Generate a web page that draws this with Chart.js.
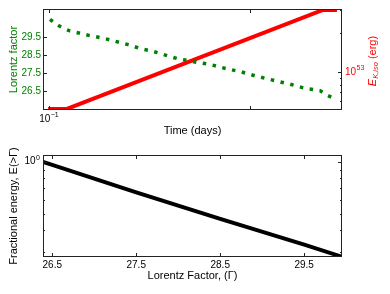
<!DOCTYPE html>
<html>
<head>
<meta charset="utf-8">
<script src="https://cdn.jsdelivr.net/npm/chart.js@4.4.1/dist/chart.umd.min.js"></script>
<style>
html,body{margin:0;padding:0;background:#fff;}
#wrap{position:relative;width:390px;height:294px;overflow:hidden;}
#c1{position:absolute;left:0;top:0;}
#c2{position:absolute;left:0;top:140px;}
</style>
</head>
<body>
<div id="wrap">
<canvas id="c1" width="390" height="140"></canvas>
<canvas id="c2" width="390" height="154"></canvas>
</div>
<script>
// ---- data ----
const timeDays = [0.1012,0.1092,0.1178,0.1272,0.1427,0.1569,0.1794,0.2012,0.2255,0.2529,0.2836,0.3181,0.3566,0.3999,0.4485,0.5030,0.5326,0.6324,0.7656,0.9095,1.0797,1.3060,1.5812,1.8774,2.2301,2.4074,2.6697];
const lorentzFactor = [30.49,30.21,29.99,29.85,29.72,29.61,29.48,29.35,29.20,29.06,28.87,28.75,28.60,28.42,28.27,28.18,28.12,27.98,27.74,27.56,27.32,27.10,26.88,26.65,26.52,26.28,26.04];
const energyTime = [0.099, 0.1229, 2.307, 2.709];
const energyIso = [5.2e52, 5.2e52, 3.0e53, 3.0e53];
const gammaVals = [26.39, 26.5, 27.5, 28.5, 29.5, 29.95];
const fracEnergy = [0.996, 0.959, 0.663, 0.466, 0.330, 0.281];

// ---- ticks ----
const timeTicks = [0.1, 1];
const timeTickLabels = [{value: 0.1, base: '10', exp: '\u22121'}];
const lorentzTicks = [26.5, 27.5, 28.5, 29.5];
const energyMajor = [1e53];
const energyMinor = [6e52, 7e52, 8e52, 9e52, 2e53, 3e53];
const energyTickLabels = [{value: 1e53, base: '10', exp: '53'}];
const gammaTicks = [26.5, 27.5, 28.5, 29.5];
const fracMajor = [1];
const fracMinor = [0.3, 0.4, 0.5, 0.6, 0.7, 0.8, 0.9];
const fracTickLabels = [{value: 1, base: '10', exp: '0'}];

const FONT = "'Liberation Sans', Arial, sans-serif";
const GREEN = '#008000', RED = '#ff0000';

const boxTicks = {
  id: 'boxTicks',
  afterDatasetsDraw(chart, args, opts) {
    const ctx = chart.ctx, a = chart.chartArea;
    ctx.save();
    ctx.strokeStyle = '#222';
    ctx.lineWidth = 1;
    (opts.marks || []).forEach(m => {
      const s = chart.scales[m.scale];
      m.values.forEach(v => {
        const p = Math.round(s.getPixelForValue(v)) + 0.5;
        ctx.beginPath();
        m.sides.forEach(side => {
          if (side === 'bottom') { ctx.moveTo(p, a.bottom); ctx.lineTo(p, a.bottom - m.len); }
          if (side === 'top') { ctx.moveTo(p, a.top); ctx.lineTo(p, a.top + m.len); }
          if (side === 'left') { ctx.moveTo(a.left, p); ctx.lineTo(a.left + m.len, p); }
          if (side === 'right') { ctx.moveTo(a.right, p); ctx.lineTo(a.right - m.len, p); }
        });
        ctx.stroke();
      });
    });
    ctx.strokeRect(Math.round(a.left) + 0.5, Math.round(a.top) + 0.5,
                   Math.round(a.right - a.left) - 1, Math.round(a.bottom - a.top) - 1);
    // superscript tick labels
    (opts.supLabels || []).forEach(L => {
      const s = chart.scales[L.scale];
      L.items.forEach(it => {
        const p = s.getPixelForValue(it.value);
        ctx.font = '10px ' + FONT;
        const wb = ctx.measureText(it.base).width;
        ctx.font = '7px ' + FONT;
        const we = ctx.measureText(it.exp).width;
        const w = wb + we + 0.5;
        let x0, yc;
        if (L.side === 'bottom') { x0 = p - w / 2; yc = a.bottom + 9; }
        if (L.side === 'left') { x0 = a.left - 3 - w; yc = p; }
        if (L.side === 'right') { x0 = a.right + 3; yc = p; }
        ctx.fillStyle = L.color;
        ctx.textAlign = 'left';
        ctx.textBaseline = 'middle';
        ctx.font = '10px ' + FONT;
        ctx.fillText(it.base, x0, yc);
        ctx.font = '7px ' + FONT;
        ctx.fillText(it.exp, x0 + wb + 0.5, yc - 4);
      });
    });
    if (opts.rightTitle) {
      const t = opts.rightTitle;
      ctx.fillStyle = t.color;
      ctx.textBaseline = 'middle';
      ctx.textAlign = 'left';
      const parts = [
        {txt: 'E', font: 'italic 11px ' + FONT, dy: 0},
        {txt: 'K,iso', font: 'italic 7.5px ' + FONT, dy: 3},
        {txt: ' (erg)', font: '11px ' + FONT, dy: 0}
      ];
      let total = 0;
      parts.forEach(p => { ctx.font = p.font; p.w = ctx.measureText(p.txt).width; total += p.w; });
      ctx.translate(t.x, t.y);
      ctx.rotate(-Math.PI / 2);
      let x = -total / 2;
      parts.forEach(p => { ctx.font = p.font; ctx.fillText(p.txt, x, p.dy); x += p.w; });
    }
    ctx.restore();
  }
};

function setTicks(vals) { return s => { s.ticks = vals.map(v => ({value: v})); }; }

new Chart(document.getElementById('c1'), {
  type: 'line',
  data: {
    datasets: [
      {
        data: timeDays.map((t, i) => ({x: t, y: lorentzFactor[i]})),
        yAxisID: 'yL', borderColor: GREEN, borderWidth: 3.5,
        borderDash: [3.5, 6.5], borderCapStyle: 'butt',
        pointRadius: 0, tension: 0, fill: false
      },
      {
        data: energyTime.map((t, i) => ({x: t, y: energyIso[i]})),
        yAxisID: 'yR', borderColor: RED, borderWidth: 4,
        pointRadius: 0, tension: 0, fill: false
      }
    ]
  },
  options: {
    responsive: false, animation: false, devicePixelRatio: 1,
    layout: {padding: {top: 8, left: 0, right: 0, bottom: 0}},
    plugins: {
      legend: {display: false}, tooltip: {enabled: false},
      boxTicks: {
        marks: [
          {scale: 'x', values: timeTicks, sides: ['bottom', 'top'], len: 4},
          {scale: 'yL', values: lorentzTicks, sides: ['left'], len: 4},
          {scale: 'yR', values: energyMajor, sides: ['right'], len: 4},
          {scale: 'yR', values: energyMinor, sides: ['right'], len: 2}
        ],
        supLabels: [
          {scale: 'x', side: 'bottom', color: '#000', items: timeTickLabels},
          {scale: 'yR', side: 'right', color: RED, items: energyTickLabels}
        ],
        rightTitle: {x: 373, y: 61, color: RED}
      }
    },
    scales: {
      x: {
        type: 'logarithmic', min: 0.0934, max: 2.87,
        afterBuildTicks: setTicks(timeTicks),
        afterFit: s => { s.height = 30; },
        grid: {display: false, drawTicks: false}, border: {display: false},
        ticks: {color: '#000', font: {family: FONT, size: 10}, padding: 3, maxRotation: 0,
                autoSkip: false, callback: () => ''},
        title: {display: true, text: 'Time (days)', color: '#000',
                font: {family: FONT, size: 11}, padding: {top: 0, bottom: 2}}
      },
      yL: {
        type: 'linear', position: 'left', min: 25.44, max: 31.07,
        afterBuildTicks: setTicks(lorentzTicks),
        afterFit: s => { s.width = 43; },
        grid: {display: false, drawTicks: false}, border: {display: false},
        ticks: {color: GREEN, font: {family: FONT, size: 10}, padding: 2,
                callback: v => v.toFixed(1)},
        title: {display: true, text: 'Lorentz factor', color: GREEN,
                font: {family: FONT, size: 11}, padding: {top: 7, bottom: 0}}
      },
      yR: {
        type: 'logarithmic', position: 'right', min: 5.1e52, max: 3.05e53,
        afterBuildTicks: setTicks(energyMajor),
        afterFit: s => { s.width = 48; },
        grid: {display: false, drawTicks: false}, border: {display: false},
        ticks: {color: RED, font: {family: FONT, size: 10}, padding: 3,
                callback: () => ''},
        title: {display: false}
      }
    }
  },
  plugins: [boxTicks]
});

new Chart(document.getElementById('c2'), {
  type: 'line',
  data: {
    datasets: [{
      data: gammaVals.map((g, i) => ({x: g, y: fracEnergy[i]})),
      borderColor: '#000', borderWidth: 4, pointRadius: 0, tension: 0, fill: false
    }]
  },
  options: {
    responsive: false, animation: false, devicePixelRatio: 1,
    layout: {padding: {top: 15, left: 0, right: 48, bottom: 0}},
    plugins: {
      legend: {display: false}, tooltip: {enabled: false},
      boxTicks: {
        marks: [
          {scale: 'x', values: gammaTicks, sides: ['bottom', 'top'], len: 4},
          {scale: 'y', values: fracMajor, sides: ['left', 'right'], len: 4},
          {scale: 'y', values: fracMinor, sides: ['left', 'right'], len: 2}
        ],
        supLabels: [
          {scale: 'y', side: 'left', color: '#000', items: fracTickLabels}
        ]
      }
    },
    scales: {
      x: {
        type: 'linear', min: 26.39, max: 29.95,
        afterBuildTicks: setTicks(gammaTicks),
        afterFit: s => { s.height = 37; },
        grid: {display: false, drawTicks: false}, border: {display: false},
        ticks: {color: '#000', font: {family: FONT, size: 10}, padding: 2, maxRotation: 0,
                autoSkip: false, callback: v => v.toFixed(1)},
        title: {display: true, text: 'Lorentz Factor, (\u0393)', color: '#000',
                font: {family: FONT, size: 11}, padding: {top: 0, bottom: 11}}
      },
      y: {
        type: 'logarithmic', position: 'left', min: 0.282, max: 1.093,
        afterBuildTicks: setTicks(fracMajor),
        afterFit: s => { s.width = 43; },
        grid: {display: false, drawTicks: false}, border: {display: false},
        ticks: {color: '#000', font: {family: FONT, size: 10}, padding: 3,
                callback: () => ''},
        title: {display: true, text: 'Fractional energy, E(>\u0393)', color: '#000',
                font: {family: FONT, size: 11}, padding: {top: 7, bottom: 0}}
      }
    }
  },
  plugins: [boxTicks]
});
</script>
</body>
</html>
